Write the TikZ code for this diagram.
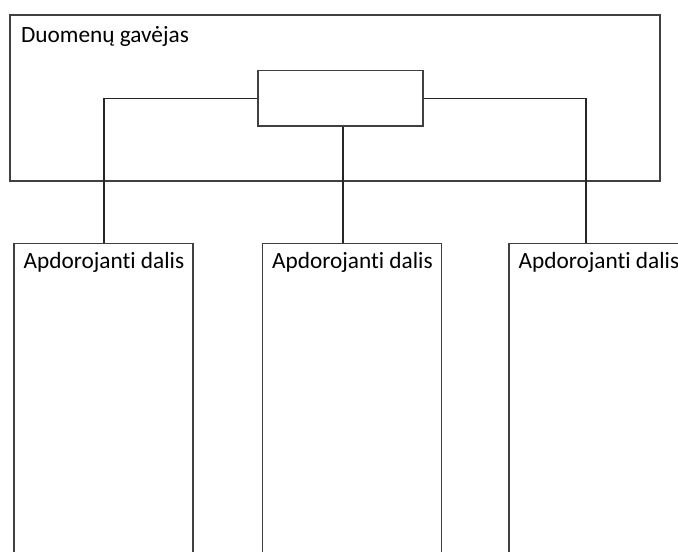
\documentclass[tikz,border=0pt]{standalone}
\usepackage{fontspec}
\setmainfont[Ligatures=NoCommon]{Carlito}
\usetikzlibrary{positioning,calc}

\begin{document}
\begin{tikzpicture}[
    x=1pt, y=-1pt,
    font=\fontsize{23.3}{28}\selectfont,
    box/.style={
        draw=black!75,
        line width=1.3pt,
        inner sep=0pt
    },
    receiver/.style={box, minimum width=650pt, minimum height=166pt},
    hub/.style={box, minimum width=165pt, minimum height=55.5pt},
    worker/.style={box, anchor=north, minimum width=179pt, minimum height=340pt},
    lastworker/.style={worker, minimum width=340pt},
    caption/.style={anchor=base west, inner sep=0pt},
    link/.style={draw=black!85, line width=1.1pt}
]
\useasboundingbox (0,0) rectangle (678,552);
\clip (0,0) rectangle (678,552);

\node[receiver] (receiver) at (335,98) {};
\node[caption] at ($(receiver.north west)+(11.5,28)$) {Duomenų gavėjas};
\node[hub] (hub) at (340.5,98.3) {};

\node[worker] (workerA) at (103.5,243) {};
\node[worker] (workerB) at (352,243) {};
\node[lastworker] (workerC) at (679,243) {};
\node[caption] at ($(workerA.north west)+(10,25)$) {Apdorojanti dalis};
\node[caption] at ($(workerB.north west)+(10,25)$) {Apdorojanti dalis};
\node[caption] at ($(workerC.north west)+(10,25)$) {Apdorojanti dalis};

\coordinate (tapA) at (104,243);
\coordinate (tapB) at (343,243);
\coordinate (tapC) at (586,243);

\draw[link] (hub.west) -| (tapA);
\draw[link] (hub.south -| tapB) -- (tapB);
\draw[link] (hub.east) -| (tapC);

\end{tikzpicture}
\end{document}
